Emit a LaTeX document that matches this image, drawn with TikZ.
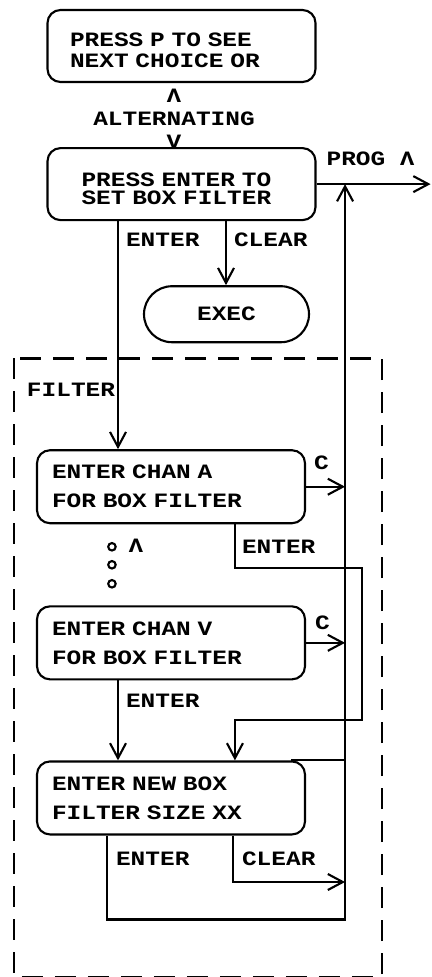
\documentclass[tikz,border=0pt]{standalone}
\usepackage{fontspec}
\newfontfamily\plotfont{Liberation Mono}[FakeStretch=1.2]
\usetikzlibrary{arrows.meta, positioning, calc}

\begin{document}
\begin{tikzpicture}[
      font=\plotfont\bfseries\fontsize{11.6}{13}\selectfont,
      line width=1.2pt,
      panel/.style={rectangle, draw=black, rounded corners=0.26cm,
                    minimum width=5.36cm, minimum height=1.46cm,
                    inner xsep=0pt, align=left, text width=4.76cm,
                    font=\plotfont\bfseries\fontsize{11.6}{16.5}\selectfont},
      term/.style={rectangle, draw=black, rounded corners=0.56cm,
                   minimum width=3.3cm, minimum height=1.12cm},
      lbl/.style={inner sep=0pt, anchor=base west},
      ring/.style={circle, draw=black, inner sep=0pt, minimum size=0.15cm},
      frame/.style={line width=1.6pt, dash pattern=on 0.42cm off 0.24cm},
      arr/.style={-{Straight Barb[length=3mm, width=3.2mm]}}
    ]
    \useasboundingbox (0,0) rectangle (8.62,-19.54);

    % Top: choice panels
    \node[panel, text width=4.46cm, minimum height=1.44cm, text height=12.2pt,
          font=\plotfont\bfseries\fontsize{11.6}{12}\selectfont] (p1) at (3.63,-0.92) {PRESS P TO SEE\\NEXT CHOICE OR};
    \node[panel, below=1.28cm of p1, text width=4.0cm, minimum height=1.44cm, text height=13.2pt,
          font=\plotfont\bfseries\fontsize{11.6}{10.2}\selectfont] (p2) {PRESS ENTER TO\\SET BOX FILTER};
    \node[align=center, inner sep=0pt] (alt) at ($(p1.south)!0.5!(p2.north)+(-0.15,-0.07)$) {Λ\\ALTERNATING\\V};
    \node[term, below=1.28cm of p2, xshift=0.9cm] (exec) {EXEC};

    % Filter panels
    \node[panel, below=4.56cm of p2, xshift=-0.21cm] (p3) {ENTER CHAN A\\FOR BOX FILTER};
    \node[panel, below=1.62cm of p3] (p4) {ENTER CHAN V\\FOR BOX FILTER};
    \node[panel, below=1.6cm of p4] (p5) {ENTER NEW BOX\\FILTER SIZE XX};

    \coordinate (bus) at ([xshift=0.78cm]p3.east);
    \coordinate (out) at ([xshift=2.28cm]p2.east);

    % Dashed frame
    \draw[frame] ([xshift=-0.44cm, yshift=1.82cm]p3.north west) coordinate (ftl) rectangle ++(7.36,-12.38);
    \node[lbl] (lfilt) at ([xshift=0.24cm, yshift=-0.76cm]ftl) {FILTER};

    % PROG exit
    \draw[arr] (p2.east) -- (out);
    \node[lbl] (lprog) at ([xshift=0.18cm, yshift=0.38cm]p2.east) {PROG Λ};

    % Box filter entry
    \draw[arr] ([xshift=-1.27cm]p2.south) coordinate (e2) -- (e2 |- p3.north);
    \node[lbl] (le2) at ([xshift=0.14cm, yshift=-0.5cm]e2) {ENTER};
    \draw[arr] ([xshift=0.89cm]p2.south) coordinate (c2) -- (c2 |- exec.north);
    \node[lbl] (lc2) at ([xshift=0.14cm, yshift=-0.5cm]c2) {CLEAR};

    % C exits
    \draw[arr] (p3.east) -- (p3.east -| bus);
    \node[lbl] (lc3) at ([xshift=0.14cm, yshift=0.35cm]p3.east) {C};
    \draw[arr] (p4.east) -- (p4.east -| bus);
    \node[lbl] (lc4) at ([xshift=0.16cm, yshift=0.27cm]p4.east) {C};

    % Chan A -> size
    \draw[arr] ([xshift=3.98cm]p3.south west) coordinate (e3) -- ++(0,-0.87) -- ++(2.54,0)
      -- ++(0,-3.04) -- ++(-2.54,0) -- (e3 |- p5.north);
    \node[lbl] (le3) at ([xshift=0.12cm, yshift=-0.58cm]e3) {ENTER};

    % More channels
    \foreach \i/\dy in {1/0.45, 2/0.81, 3/1.19}
      \node[ring] (dot\i) at ([xshift=1.52cm, yshift=-\dy cm]p3.south west) {};
    \node[lbl, anchor=base] (lup) at ([xshift=2.0cm, yshift=-0.57cm]p3.south west) {Λ};

    % Chan V -> size
    \draw[arr] ([xshift=-1.06cm]p4.south) coordinate (e4) -- (e4 |- p5.north);
    \node[lbl] (le4) at ([xshift=0.14cm, yshift=-0.54cm]e4) {ENTER};

    % Size exits
    \draw ([xshift=-0.3cm]p5.north east) -- (p5.north -| bus);
    \draw[arr] ([xshift=-1.28cm]p5.south) coordinate (e5) -- ++(0,-1.68) -| (bus) -- (p2.east -| bus);
    \node[lbl] (le5) at ([xshift=0.16cm, yshift=-0.6cm]e5) {ENTER};
    \draw[arr] ([xshift=1.24cm]p5.south) coordinate (c5) -- ++(0,-0.93) coordinate (c5b) -- (c5b -| bus);
    \node[lbl] (lc5) at ([xshift=0.16cm, yshift=-0.6cm]c5) {CLEAR};
\end{tikzpicture}
\end{document}
